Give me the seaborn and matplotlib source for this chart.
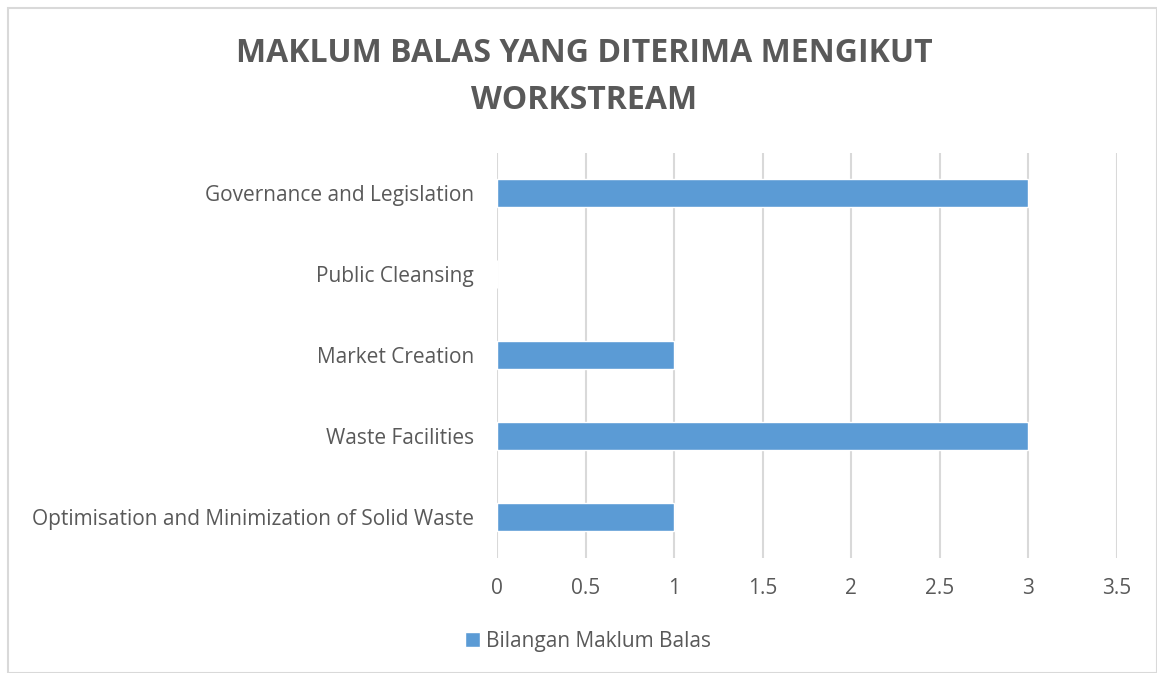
import matplotlib
matplotlib.use("Agg")
from matplotlib import pyplot as plt
from matplotlib.patches import Rectangle, Patch
import pandas as pd
import seaborn as sns

categories = [
    "Governance and Legislation",
    "Public Cleansing",
    "Market Creation",
    "Waste Facilities",
    "Optimisation and Minimization of Solid Waste",
]
values = [3, 0, 1, 3, 1]
x_ticks = [0, 0.5, 1, 1.5, 2, 2.5, 3, 3.5]
series_name = "Bilangan Maklum Balas"

bar_color = "#5B9BD5"
text_color = "#595959"
grid_color = "#D9D9D9"

sns.set_theme(style="white")
plt.rcParams["font.family"] = ["Open Sans", "DejaVu Sans"]

df = pd.DataFrame({"workstream": categories, "count": values})

fig = plt.figure(figsize=(11.57, 6.73), dpi=100)
ax = fig.add_axes([0.4296, 0.1716, 0.965 - 0.4296, 0.7734 - 0.1716])

sns.barplot(data=df, x="count", y="workstream", orient="h", color=bar_color,
            saturation=1, width=0.35, ax=ax)

ax.set_xlim(0, 3.5)
ax.set_ylim(4.5, -0.5)
ax.set_xticks(x_ticks)
ax.set_xticklabels([f"{t:g}" for t in x_ticks])
ax.xaxis.grid(True, color=grid_color, linewidth=1.5)
ax.set_axisbelow(True)
for s in ax.spines.values():
    s.set_visible(False)
ax.set_xlabel("")
ax.set_ylabel("")
ax.tick_params(axis="both", length=0, labelsize=15, labelcolor=text_color)
ax.tick_params(axis="x", pad=15)
ax.tick_params(axis="y", pad=16.5)

fig.text(0.505, 0.886, "MAKLUM BALAS YANG DITERIMA MENGIKUT\nWORKSTREAM",
         ha="center", va="center", fontsize=23, fontweight="bold",
         color=text_color, linespacing=1.55)

fig.legend(handles=[Patch(facecolor=bar_color, label=series_name)],
           loc="center left", bbox_to_anchor=(0.386, 0.047), frameon=False,
           fontsize=15, labelcolor=text_color, handlelength=0.7,
           handleheight=0.7, handletextpad=0.3)

fig.patches.append(Rectangle((8 / 1157, 0), 1 - 8 / 1157, 1 - 8 / 673,
                             transform=fig.transFigure, fill=False,
                             edgecolor=grid_color, linewidth=1.5))

fig.savefig("out.png", dpi=100)
